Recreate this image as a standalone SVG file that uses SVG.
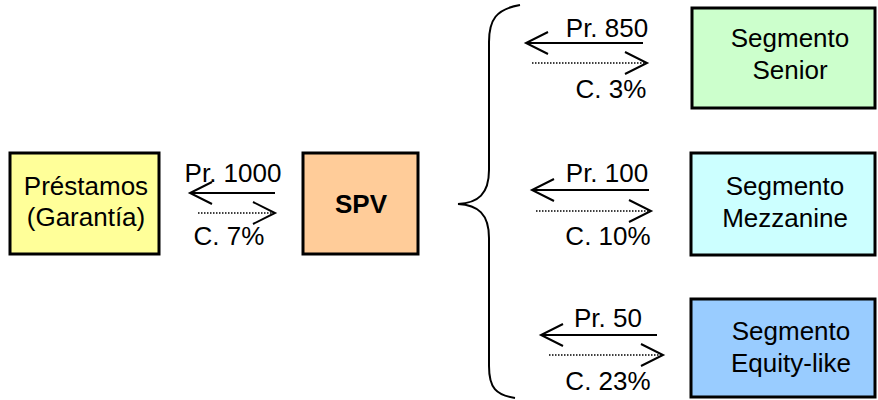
<svg xmlns="http://www.w3.org/2000/svg" width="878" height="400" viewBox="0 0 878 400">
<defs>
<marker id="head" markerUnits="userSpaceOnUse" markerWidth="30" markerHeight="30" refX="22" refY="11" orient="auto" overflow="visible">
<path d="M0,0 L22,11 L0,22" fill="none" stroke="#000" stroke-width="2"/>
</marker>
</defs>
<style>
.box{stroke:#000;stroke-width:3}
.t{font-family:"Liberation Sans",Arial,sans-serif;font-size:26px;fill:#000;text-anchor:middle}
.b{font-weight:bold}
.solid{stroke:#000;stroke-width:2;fill:none}
.dot{stroke:#000;stroke-width:1.5;stroke-dasharray:1.5 1.5;fill:none}
.brace{stroke:#000;stroke-width:2;fill:none}
</style>
<rect width="878" height="400" fill="#fff"/>
<g id="prestamos">
<rect class="box" x="10" y="153" width="149" height="101" fill="#FFFF99"/>
<text class="t" x="86" y="195">Préstamos</text>
<text class="t" x="86" y="226">(Garantía)</text>
</g>
<g id="spv">
<rect class="box" x="303" y="153" width="115" height="101" fill="#FFCC99"/>
<text class="t b" x="361" y="213">SPV</text>
</g>
<g id="senior">
<rect class="box" x="692" y="8" width="183" height="100" fill="#CCFFCC"/>
<text class="t" x="790" y="47">Segmento</text>
<text class="t" x="790" y="79">Senior</text>
</g>
<g id="mezzanine">
<rect class="box" x="691" y="153" width="184" height="102" fill="#CCFFFF"/>
<text class="t" x="785" y="195">Segmento</text>
<text class="t" x="785" y="227">Mezzanine</text>
</g>
<g id="equity">
<rect class="box" x="691" y="299" width="184" height="98" fill="#99CCFF"/>
<text class="t" x="791" y="340">Segmento</text>
<text class="t" x="791" y="372">Equity-like</text>
</g>
<g id="connectors">
<path class="brace" d="M520,5 C496,9 489,20 489,42 L489,170 C489,194 478,203 458,204 C478,205 489,214 489,238 L489,366 C489,388 496,395 515,398"/>
<line class="solid" x1="275" y1="193" x2="190" y2="193" marker-end="url(#head)"/>
<line class="dot" x1="198" y1="213" x2="275" y2="213" marker-end="url(#head)"/>
<line class="solid" x1="643" y1="43" x2="526" y2="43" marker-end="url(#head)"/>
<line class="dot" x1="532" y1="63" x2="647" y2="63" marker-end="url(#head)"/>
<line class="solid" x1="649" y1="190" x2="532" y2="190" marker-end="url(#head)"/>
<line class="dot" x1="536" y1="211" x2="651" y2="211" marker-end="url(#head)"/>
<line class="solid" x1="657" y1="335" x2="541" y2="335" marker-end="url(#head)"/>
<line class="dot" x1="549" y1="355" x2="663" y2="355" marker-end="url(#head)"/>
</g>
<g id="labels">
<text class="t" x="233" y="182">Pr. 1000</text>
<text class="t" x="229" y="245">C. 7%</text>
<text class="t" x="607" y="37">Pr. 850</text>
<text class="t" x="611" y="98">C. 3%</text>
<text class="t" x="607" y="182">Pr. 100</text>
<text class="t" x="608" y="245">C. 10%</text>
<text class="t" x="608" y="327">Pr. 50</text>
<text class="t" x="608" y="390">C. 23%</text>
</g>
</svg>
